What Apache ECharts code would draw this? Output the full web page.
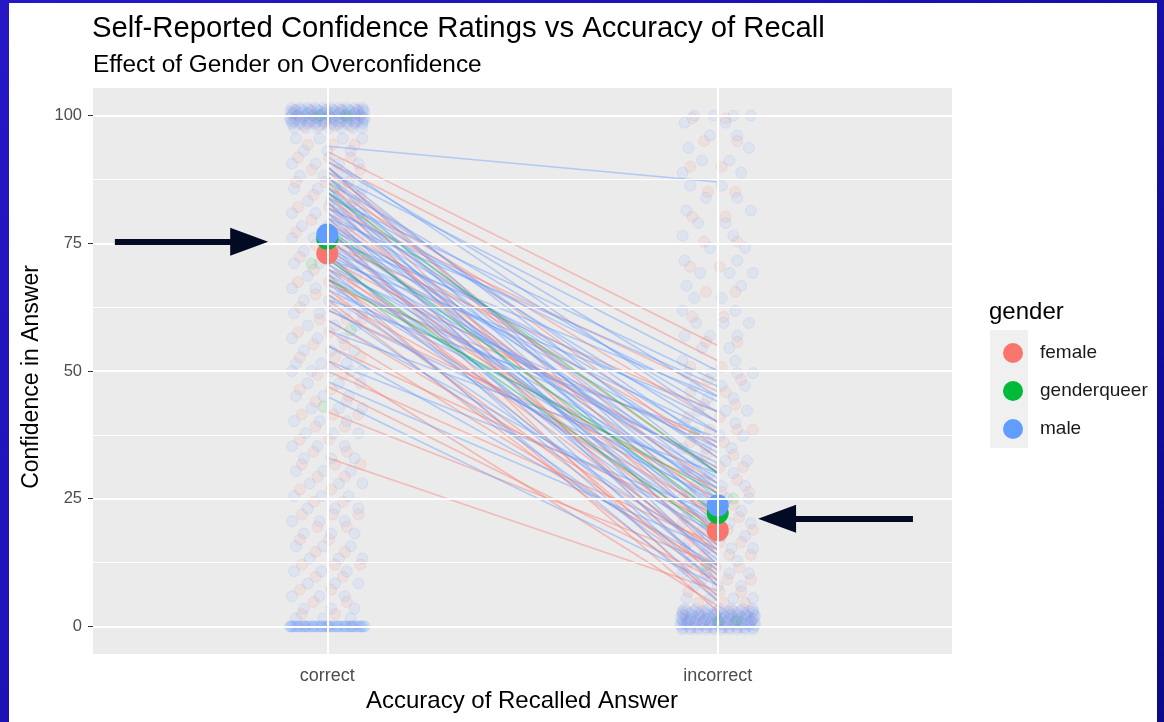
<!DOCTYPE html>
<html><head><meta charset="utf-8">
<script src="https://cdn.jsdelivr.net/npm/echarts@6/dist/echarts.min.js"></script>
<style>
html,body{margin:0;padding:0;width:1164px;height:722px;overflow:hidden;background:linear-gradient(135deg,#2618c6 0%,#1c11b4 45%,#0b0a88 100%);}
#frame{position:absolute;left:9px;top:3px;width:1148px;height:719px;background:#fff;}
#chart{position:absolute;left:0;top:0;width:1164px;height:722px;}
</style></head><body><div id="frame"></div><div id="chart"></div>
<script>
// ---------- data ----------
const categories = ['correct', 'incorrect'];
const yTicks = [0, 25, 50, 75, 100];
const genders = ['female', 'genderqueer', 'male'];
const genderColors = ['#F8766D', '#00BA38', '#619CFF'];

// group means [correct, incorrect]
const meanFemale = [73.0, 18.8];
const meanGenderqueer = [75.9, 22.2];
const meanMale = [76.7, 23.7];

// participant means [correct, incorrect]
const partMale = [[94,87],[0,0],[92,40],[91,45],[90,30],[90,22],[89,50],[88,35],[88,18],[87,42],[86,28],[86,12],[85,38],[85,25],[84,48],[84,20],[83,33],[83,15],[82,44],[82,27],[81,10],[81,36],[80,23],[80,47],[79,30],[79,17],[78,40],[78,8],[77,26],[77,34],[76,19],[76,45],[75,29],[75,13],[74,38],[74,22],[73,31],[73,6],[72,42],[72,16],[71,27],[70,35],[70,11],[69,24],[68,32],[68,5],[67,20],[66,28],[65,14],[64,37],[63,9],[62,25],[60,18],[58,30],[55,12],[52,22],[48,15],[45,8]];
const partFemale = [[93,55],[91,52],[90,20],[89,33],[88,26],[87,14],[86,40],[85,9],[84,30],[83,18],[82,46],[81,24],[80,12],[79,35],[78,5],[77,28],[76,16],[75,42],[74,21],[73,8],[72,31],[71,14],[70,25],[69,3],[68,19],[67,36],[66,10],[65,22],[64,6],[62,27],[60,15],[58,11],[55,20],[52,4],[50,16],[47,9],[42,12],[33,7]];
const partGenderqueer = [[85,30],[78,22],[72,18],[68,26]];

// jittered trial points, one row per confidence value: [confidence, x offsets from the category...]
const correctMaleRows = [
[101.5,-0.09,-0.07,-0.05,-0.03,-0.01,0.01,0.03,0.05,0.07,0.09],
[101.1,-0.085,-0.065,-0.045,-0.025,-0.005,0.015,0.035,0.055,0.075,0.092],
[100.8,-0.095,-0.08,-0.06,-0.04,-0.02,0,0.02,0.04,0.06,0.08,0.095],
[100.4,-0.09,-0.07,-0.05,-0.03,-0.01,0.01,0.03,0.05,0.07,0.09],
[100,-0.09,-0.075,-0.055,-0.035,-0.015,0.005,0.025,0.045,0.065,0.085],
[99.6,-0.095,-0.065,-0.045,-0.025,-0.005,0.015,0.035,0.055,0.075,0.095],
[99.2,-0.095,-0.08,-0.06,-0.04,-0.02,0,0.02,0.04,0.06,0.08,0.095],
[98.8,-0.09,-0.07,-0.05,-0.03,-0.01,0.01,0.03,0.05,0.07,0.09],
[98.4,-0.09,-0.07,-0.05,-0.03,-0.01,0.01,0.03,0.05,0.07,0.09],
[97.6,-0.085,-0.055,-0.025,0.005,0.035,0.065,0.09],
[95.5,-0.08,-0.02,0.04,0.09],[93.1,-0.06,0,0.06],[90.6,-0.09,-0.03,0.03,0.08],[88.2,-0.07,-0.01,0.05],
[85.7,-0.085,-0.025,0.035,0.09],[83.3,-0.05,0.01,0.07],[80.9,-0.09,-0.03,0.03,0.085],[78.4,-0.065,0,0.06],
[76.0,-0.09,-0.035,0.025,0.08],[73.5,-0.06,0.01,0.07],[71.1,-0.085,-0.02,0.04,0.09],[68.6,-0.05,0.02,0.075],
[66.2,-0.09,-0.03,0.035],[63.8,-0.06,0.005,0.065],[61.3,-0.085,-0.02,0.045,0.09],[58.9,-0.05,0.02,0.075],
[56.4,-0.09,-0.025,0.04],[54.0,-0.06,0.01,0.07],[51.5,-0.08,-0.015,0.05],[50.0,-0.09,-0.04,0.01,0.06,0.09],
[47.6,-0.05,0.03,0.085],[45.1,-0.08,-0.01,0.055],[42.7,-0.04,0.03,0.09],[40.2,-0.085,-0.02,0.05],
[37.8,-0.055,0.015,0.08],[35.3,-0.09,-0.025,0.045],[32.9,-0.06,0.01,0.07],[30.4,-0.08,-0.01,0.06],
[28.0,-0.045,0.03,0.09],[25.5,-0.085,-0.015,0.055],[23.1,-0.05,0.02,0.08],[20.6,-0.09,-0.02,0.045],
[18.2,-0.06,0.01,0.07],[15.7,-0.08,-0.01,0.06],[13.3,-0.045,0.03,0.09],[10.8,-0.085,-0.015,0.05],
[8.4,-0.05,0.02,0.08],[5.9,-0.09,-0.02,0.045],[3.5,-0.06,0.01,0.07],[1.6,-0.08,-0.01,0.06],
[0,-0.095,-0.085,-0.075,-0.065,-0.055,-0.045,-0.035,-0.025,-0.015,-0.005,0.005,0.015,0.025,0.035,0.045,0.055,0.065,0.075,0.085,0.095],
[0,-0.09,-0.07,-0.05,-0.03,-0.01,0.01,0.03,0.05,0.07,0.09],
[0,-0.095,-0.08,-0.06,-0.04,-0.02,0,0.02,0.04,0.06,0.08,0.095],
[0,-0.09,-0.075,-0.055,-0.035,-0.015,0.005,0.025,0.045,0.065,0.085]];
const correctFemaleRows = [
[101.2,-0.08,-0.04,0,0.04,0.08],[100.4,-0.09,-0.05,-0.01,0.03,0.07],[99.6,-0.07,-0.03,0.01,0.05,0.09],
[98.8,-0.085,-0.045,-0.005,0.035,0.075],[98.0,-0.06,-0.02,0.02,0.06],[100,-0.075,-0.035,0.005,0.045,0.085],
[94.3,-0.05,0.015,0.07],[91.8,-0.075,0.005,0.06],[89.4,-0.04,0.025,0.085],[87.0,-0.08,-0.005,0.055],
[84.5,-0.035,0.03,0.085],[82.1,-0.075,0.005,0.06],[79.6,-0.04,0.025,0.09],[77.2,-0.08,-0.005,0.055],
[74.7,-0.03,0.04],[72.3,-0.07,0.01,0.08],[69.8,-0.035,0.05],[67.4,-0.075,0.005,0.065],[65.0,-0.03,0.04],
[62.5,-0.07,0.015],[60.1,-0.02,0.05,0.09],[57.6,-0.075,0.005],[55.2,-0.035,0.045],[52.7,-0.07,0.02,0.085],
[49.3,-0.025,0.04],[46.4,-0.07,0.01],[44.0,-0.03,0.05],[41.5,-0.065,0.015,0.08],[39.1,-0.03,0.045],
[36.6,-0.07,0.005],[34.2,-0.035,0.05],[31.7,-0.065,0.02,0.085],[29.3,-0.025,0.045],[26.8,-0.07,0.01],
[24.4,-0.035,0.04],[21.9,-0.065,0.015,0.08],[19.5,-0.025,0.05],[17.0,-0.07,0.005],[14.6,-0.03,0.045],
[12.1,-0.065,0.02,0.085],[9.7,-0.03,0.04],[7.2,-0.07,0.01],[4.8,-0.035,0.05],[2.4,-0.065,0.02],
[0,-0.06,0,0.06]];
const correctGqRows = [[100,-0.02,0.05],[86,0.02],[71,-0.04],[58,0.06],[43,-0.01]];

const incorrectMaleRows = [
[3.4,-0.085,-0.055,-0.025,0.005,0.035,0.065,0.09],
[3.0,-0.09,-0.06,-0.03,0,0.03,0.06,0.09],
[2.6,-0.09,-0.07,-0.05,-0.03,-0.01,0.01,0.03,0.05,0.07,0.09],
[2.2,-0.085,-0.065,-0.045,-0.025,-0.005,0.015,0.035,0.055,0.075,0.095],
[1.8,-0.095,-0.08,-0.06,-0.04,-0.02,0,0.02,0.04,0.06,0.08,0.095],
[1.4,-0.09,-0.07,-0.05,-0.03,-0.01,0.01,0.03,0.05,0.07,0.09],
[1.0,-0.09,-0.075,-0.055,-0.035,-0.015,0.005,0.025,0.045,0.065,0.085],
[0.6,-0.095,-0.08,-0.06,-0.04,-0.02,0,0.02,0.04,0.06,0.08,0.095],
[0.2,-0.095,-0.08,-0.06,-0.04,-0.02,0,0.02,0.04,0.06,0.08,0.095],
[-0.2,-0.09,-0.07,-0.05,-0.03,-0.01,0.01,0.03,0.05,0.07,0.09],
[-0.6,-0.09,-0.07,-0.05,-0.03,-0.01,0.01,0.03,0.05,0.07,0.09],
[5.5,-0.08,-0.02,0.04,0.09],[7.9,-0.06,0,0.06],[10.4,-0.09,-0.03,0.03,0.08],[12.8,-0.07,-0.01,0.05],
[15.3,-0.085,-0.025,0.035,0.09],[17.7,-0.05,0.01,0.07],[20.2,-0.09,-0.03,0.03,0.085],[22.6,-0.065,0,0.06],
[25.1,-0.09,-0.035,0.025,0.08],[27.5,-0.06,0.01,0.07],[30.0,-0.085,-0.02,0.04],[32.4,-0.05,0.02,0.075],
[34.9,-0.09,-0.03,0.035],[37.3,-0.06,0.005,0.065],[39.8,-0.085,0.045],[42.2,-0.05,0.02,0.075],
[44.7,-0.025,0.04],[47.1,-0.06,0.01,0.07],[49.6,-0.08,-0.015,0.05,0.09],[52.0,-0.09,0.045],
[54.5,-0.04,0.03],[56.9,-0.085,-0.02,0.05],[59.4,-0.055,0.015,0.08],[61.8,-0.09,0.045],[64.3,-0.06,0.01],
[66.7,-0.08,0.06],[69.2,-0.045,0.03,0.09],[71.6,-0.085,0.05],[74.1,-0.02,0.07],[76.5,-0.09,0.04],
[79.0,-0.05,0.02],[81.4,-0.08,0.085],[83.9,-0.03,0.05],[86.3,-0.07,0.01],[88.8,-0.09,0.06],[91.2,-0.04,0.03],
[93.7,-0.075,0.08],[96.1,-0.02,0.05],[98.6,-0.085,0.02],[100,-0.06,-0.01,0.04,0.085]];
const incorrectFemaleRows = [
[3.0,-0.08,-0.04,0,0.04,0.08],[2.2,-0.09,-0.05,-0.01,0.03,0.07],[1.4,-0.07,-0.03,0.01,0.05,0.09],
[0.6,-0.085,-0.045,-0.005,0.035,0.075],[-0.2,-0.06,-0.02,0.02,0.06],[1.0,-0.075,-0.035,0.005,0.045,0.085],
[4.6,-0.05,0.015,0.07],[6.8,-0.075,0.005,0.06],[9.2,-0.04,0.025,0.085],[11.6,-0.08,-0.005,0.055],
[14.0,-0.035,0.03,0.085],[16.5,-0.075,0.005,0.06],[18.9,-0.04,0.025,0.09],[21.4,-0.08,-0.005,0.055],
[23.8,-0.03,0.04],[26.3,-0.07,0.01,0.08],[28.7,-0.035,0.05],[31.2,-0.075,0.005,0.065],[33.6,-0.03,0.04],
[36.1,-0.07,0.015],[38.5,-0.02,0.05,0.09],[41.0,-0.075,0.005],[43.4,-0.035,0.045],[45.9,-0.07,0.02],
[48.3,-0.025,0.06],[50.8,-0.07,0.01],[55.7,-0.03,0.05],[60.6,-0.065,0.015],[65.5,-0.03,0.045],
[70.4,-0.07,0.005],[75.3,-0.035,0.05],[80.2,-0.065,0.02],[85.1,-0.025,0.045],[90.0,-0.07,0.01],
[95.0,-0.035,0.05],[99.5,-0.065,0.02]];
const incorrectGqRows = [[1,0,0.05],[12,-0.03],[25,0.04],[38,-0.06]];

// ---------- chart ----------
const FONT = "'Liberation Sans', Arial, Helvetica, sans-serif";
const xCorrect = 1, xIncorrect = 2;
const rowsToPts = (cat, rows) => {
  const out = [];
  rows.forEach(r => { for (let k = 1; k < r.length; k++) out.push([cat + r[k], r[0]]); });
  return out;
};
const rgbaOf = (hex, a) => {
  const n = parseInt(hex.slice(1), 16);
  return 'rgba(' + (n >> 16) + ',' + ((n >> 8) & 255) + ',' + (n & 255) + ',' + a + ')';
};
function ptsSeries(name, color, data) {
  return {
    type: 'scatter', name: name, data: data, symbolSize: 11, z: 2, silent: true,
    itemStyle: { color: rgbaOf(color, 0.12), borderColor: rgbaOf(color, 0.17), borderWidth: 1 }
  };
}
function linesData(parts, color) {
  return parts.map(p => ({ coords: [[xCorrect, p[0]], [xIncorrect, p[1]]], lineStyle: { color: rgbaOf(color, 0.42) } }));
}
const allLines = [].concat(
  linesData(partFemale, genderColors[0]),
  linesData(partMale, genderColors[2]),
  linesData(partGenderqueer, genderColors[1])
);

const gridLines = [];
yTicks.forEach(v => gridLines.push({ yAxis: v, lineStyle: { width: 2 } }));
[12.5, 37.5, 62.5, 87.5].forEach(v => gridLines.push({ yAxis: v, lineStyle: { width: 1 } }));
[xCorrect, xIncorrect].forEach(v => gridLines.push({ xAxis: v, lineStyle: { width: 2 } }));

const chart = echarts.init(document.getElementById('chart'), null, { renderer: 'canvas' });
chart.setOption({
  backgroundColor: 'transparent',
  animation: false,
  textStyle: { fontFamily: FONT },
  title: [
    { text: 'Self-Reported Confidence Ratings vs Accuracy of Recall', left: 92, top: 14, padding: 0,
      textStyle: { fontSize: 29.3, fontWeight: 'normal', color: '#000', fontFamily: FONT } },
    { text: 'Effect of Gender on Overconfidence', left: 93, top: 53, padding: 0,
      textStyle: { fontSize: 24.4, fontWeight: 'normal', color: '#000', fontFamily: FONT } },
    { text: 'gender', left: 989, top: 300, padding: 0,
      textStyle: { fontSize: 24, fontWeight: 'normal', color: '#000', fontFamily: FONT } }
  ],
  grid: { left: 93, top: 88, width: 859, height: 566, show: true, backgroundColor: '#EBEBEB', borderWidth: 0 },
  xAxis: {
    type: 'value', min: 0.4, max: 2.6,
    axisLine: { show: false }, splitLine: { show: false },
    axisTick: { show: true, customValues: [xCorrect, xIncorrect], length: 5, lineStyle: { color: '#333' } },
    axisLabel: { customValues: [xCorrect, xIncorrect], formatter: v => categories[Math.round(v) - 1] || '',
      fontSize: 18, color: '#4D4D4D', margin: 13, fontFamily: FONT }
  },
  yAxis: {
    type: 'value', min: -5.4, max: 105.4,
    axisLine: { show: false }, splitLine: { show: false },
    axisTick: { show: true, customValues: yTicks, length: 5, lineStyle: { color: '#333' } },
    axisLabel: { customValues: yTicks, fontSize: 16.5, color: '#4D4D4D', margin: 11, fontFamily: FONT }
  },
  legend: {
    data: genders, orient: 'vertical', left: 998, top: 338, itemWidth: 20, itemHeight: 20, itemGap: 18,
    icon: 'circle', selectedMode: false,
    textStyle: { fontSize: 19, color: '#1a1a1a', fontFamily: FONT, padding: [0, 0, 0, 12] }
  },
  graphic: [
    { type: 'rect', shape: { x: 990, y: 330, width: 38, height: 118 }, style: { fill: '#F0F0F0' }, z: 0, silent: true },
    { type: 'text', x: 32, y: 377, rotation: Math.PI / 2,
      style: { text: 'Confidence in Answer', fontSize: 23, fontFamily: FONT, fill: '#000', align: 'center', verticalAlign: 'middle' } },
    { type: 'text', x: 522, y: 701,
      style: { text: 'Accuracy of Recalled Answer', fontSize: 24, fontFamily: FONT, fill: '#000', align: 'center', verticalAlign: 'middle' } }
  ],
  series: [
    { type: 'line', name: 'grid', data: [], z: 1, silent: true,
      markLine: { silent: true, symbol: 'none', label: { show: false }, animation: false,
        lineStyle: { color: '#FFFFFF', type: 'solid' }, data: gridLines } },
    ptsSeries('p-female-c', genderColors[0], rowsToPts(xCorrect, correctFemaleRows)),
    ptsSeries('p-male-c', genderColors[2], rowsToPts(xCorrect, correctMaleRows)),
    ptsSeries('p-gq-c', genderColors[1], rowsToPts(xCorrect, correctGqRows)),
    ptsSeries('p-female-i', genderColors[0], rowsToPts(xIncorrect, incorrectFemaleRows)),
    ptsSeries('p-male-i', genderColors[2], rowsToPts(xIncorrect, incorrectMaleRows)),
    ptsSeries('p-gq-i', genderColors[1], rowsToPts(xIncorrect, incorrectGqRows)),
    { type: 'lines', name: 'participants', coordinateSystem: 'cartesian2d', polyline: false, z: 3, silent: true,
      lineStyle: { width: 1.6, opacity: 1 }, data: allLines },
    { type: 'scatter', name: 'female', z: 4, symbolSize: 22, itemStyle: { color: genderColors[0], opacity: 1 },
      data: [[xCorrect, meanFemale[0]], [xIncorrect, meanFemale[1]]] },
    { type: 'scatter', name: 'genderqueer', z: 4, symbolSize: 22, itemStyle: { color: genderColors[1], opacity: 1 },
      data: [[xCorrect, meanGenderqueer[0]], [xIncorrect, meanGenderqueer[1]]] },
    { type: 'scatter', name: 'male', z: 4, symbolSize: 22, itemStyle: { color: genderColors[2], opacity: 1 },
      data: [[xCorrect, meanMale[0]], [xIncorrect, meanMale[1]]] },
    { type: 'line', name: 'arrows', data: [], z: 6, silent: true,
      markLine: { silent: true, symbol: ['none', 'triangle'], symbolSize: [28, 38], label: { show: false }, animation: false,
        lineStyle: { color: '#020A24', width: 6, type: 'solid' },
        data: [
          [{ coord: [0.456, 75.3] }, { coord: [0.80, 75.3] }],
          [{ coord: [2.5, 21.1] }, { coord: [2.152, 21.1] }]
        ] } }
  ]
});
</script></body></html>
